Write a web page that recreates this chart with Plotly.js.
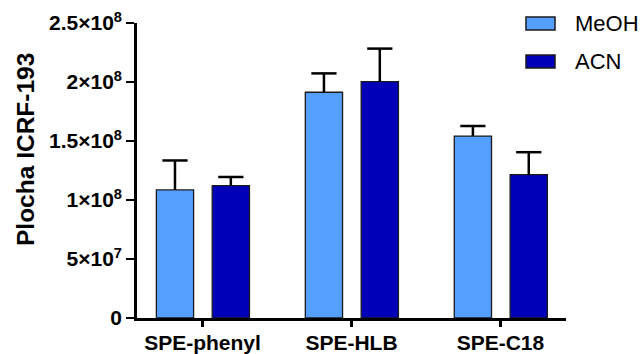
<!DOCTYPE html>
<html>
<head>
<meta charset="utf-8">
<script src="https://cdn.plot.ly/plotly-3.0.1.min.js"></script>
<style>html,body{margin:0;padding:0;background:#fff;}#chart{width:643px;height:354px;}</style>
</head>
<body>
<div id="chart"></div>
<script>
const categories = ["SPE-phenyl", "SPE-HLB", "SPE-C18"];
const seriesNames = ["MeOH", "ACN"];
const yTitle = "Plocha ICRF-193";
const meohValues = [1.085e8, 1.913e8, 1.542e8];
const meohErrors = [0.25e8, 0.16e8, 0.085e8];
const acnValues = [1.121e8, 2.003e8, 1.215e8];
const acnErrors = [0.074e8, 0.28e8, 0.19e8];
const yTickVals = [0, 5e7, 1e8, 1.5e8, 2e8, 2.5e8];
const yTickText = ["0", "5×10<sup>7</sup>", "1×10<sup>8</sup>", "1.5×10<sup>8</sup>", "2×10<sup>8</sup>", "2.5×10<sup>8</sup>"];

const colors = ["#55A0FF", "#0000B8"];
const FONT = "Liberation Sans, Arial, sans-serif";
const BAR_W = 0.25;
const offsets = [-0.31, 0.065];
const zeros = [0, 0, 0];
const xIdx = categories.map((c, i) => i);

function barTraces(name, vals, errs, color, offset) {
  const bar = {
    type: "bar", name: name, x: xIdx, y: vals,
    width: BAR_W, offset: offset,
    marker: {color: color, line: {color: "#1a1a1a", width: 1.3}},
    error_y: {type: "data", symmetric: false, array: errs, arrayminus: zeros,
              color: "#000", thickness: 2.5, width: 0},
    showlegend: false, hoverinfo: "skip"
  };
  const caps = {
    type: "scatter", mode: "markers", name: name + " cap",
    x: xIdx.map(i => i + offset + BAR_W / 2),
    y: vals.map((v, i) => v + errs[i]),
    marker: {symbol: "line-ew-open", size: 18, color: "#000", line: {color: "#000", width: 2.5}},
    showlegend: false, hoverinfo: "skip", cliponaxis: false
  };
  return [bar, caps];
}

const data = [].concat(
  barTraces(seriesNames[0], meohValues, meohErrors, colors[0], offsets[0]),
  barTraces(seriesNames[1], acnValues, acnErrors, colors[1], offsets[1])
);

const legendShapes = [];
const annotations = [];
seriesNames.forEach((n, i) => {
  const y0 = 17 + i * 38;
  legendShapes.push({type: "rect", xref: "paper", yref: "paper",
    x0: (526 - 137) / 429, x1: (555 - 137) / 429,
    y0: (318 - (y0 + 13)) / 295, y1: (318 - y0) / 295,
    fillcolor: colors[i], line: {color: "#1a1a1a", width: 1.5}});
  annotations.push({xref: "paper", yref: "paper", x: (573 - 137) / 429, y: (318 - (y0 + 6.5)) / 295,
    xanchor: "left", yanchor: "middle", text: n, showarrow: false,
    font: {family: FONT, size: 22, color: "#000"}});
});
annotations.push({xref: "paper", yref: "paper", x: (25 - 137) / 429, y: (318 - 150) / 295,
  xanchor: "center", yanchor: "middle", textangle: -90, text: yTitle, showarrow: false,
  font: {family: FONT, size: 24.5, weight: "bold", color: "#000"}});

const layout = {
  width: 643, height: 354,
  margin: {l: 137, r: 77, t: 23, b: 36},
  paper_bgcolor: "#fff", plot_bgcolor: "#fff",
  barmode: "overlay",
  font: {family: FONT, color: "#000"},
  xaxis: {
    range: [-0.44, 2.44], tickvals: xIdx, ticktext: categories,
    showgrid: false, zeroline: false, showline: true, linecolor: "#000", linewidth: 2.5,
    ticks: "outside", ticklen: 6, tickwidth: 2.5, tickcolor: "#000",
    tickfont: {size: 21, family: FONT, weight: "bold"},
    ticklabelstandoff: -2,
    fixedrange: true
  },
  yaxis: {
    range: [0, 2.5e8], tickvals: yTickVals, ticktext: yTickText,
    showgrid: false, zeroline: false, showline: true, linecolor: "#000", linewidth: 2.8,
    ticks: "outside", ticklen: 8, tickwidth: 2.5, tickcolor: "#000",
    tickfont: {size: 21, family: FONT, weight: "bold"},
    fixedrange: true
  },
  shapes: legendShapes,
  annotations: annotations
};

Plotly.newPlot("chart", data, layout, {displayModeBar: false, staticPlot: true});
</script>
</body>
</html>
